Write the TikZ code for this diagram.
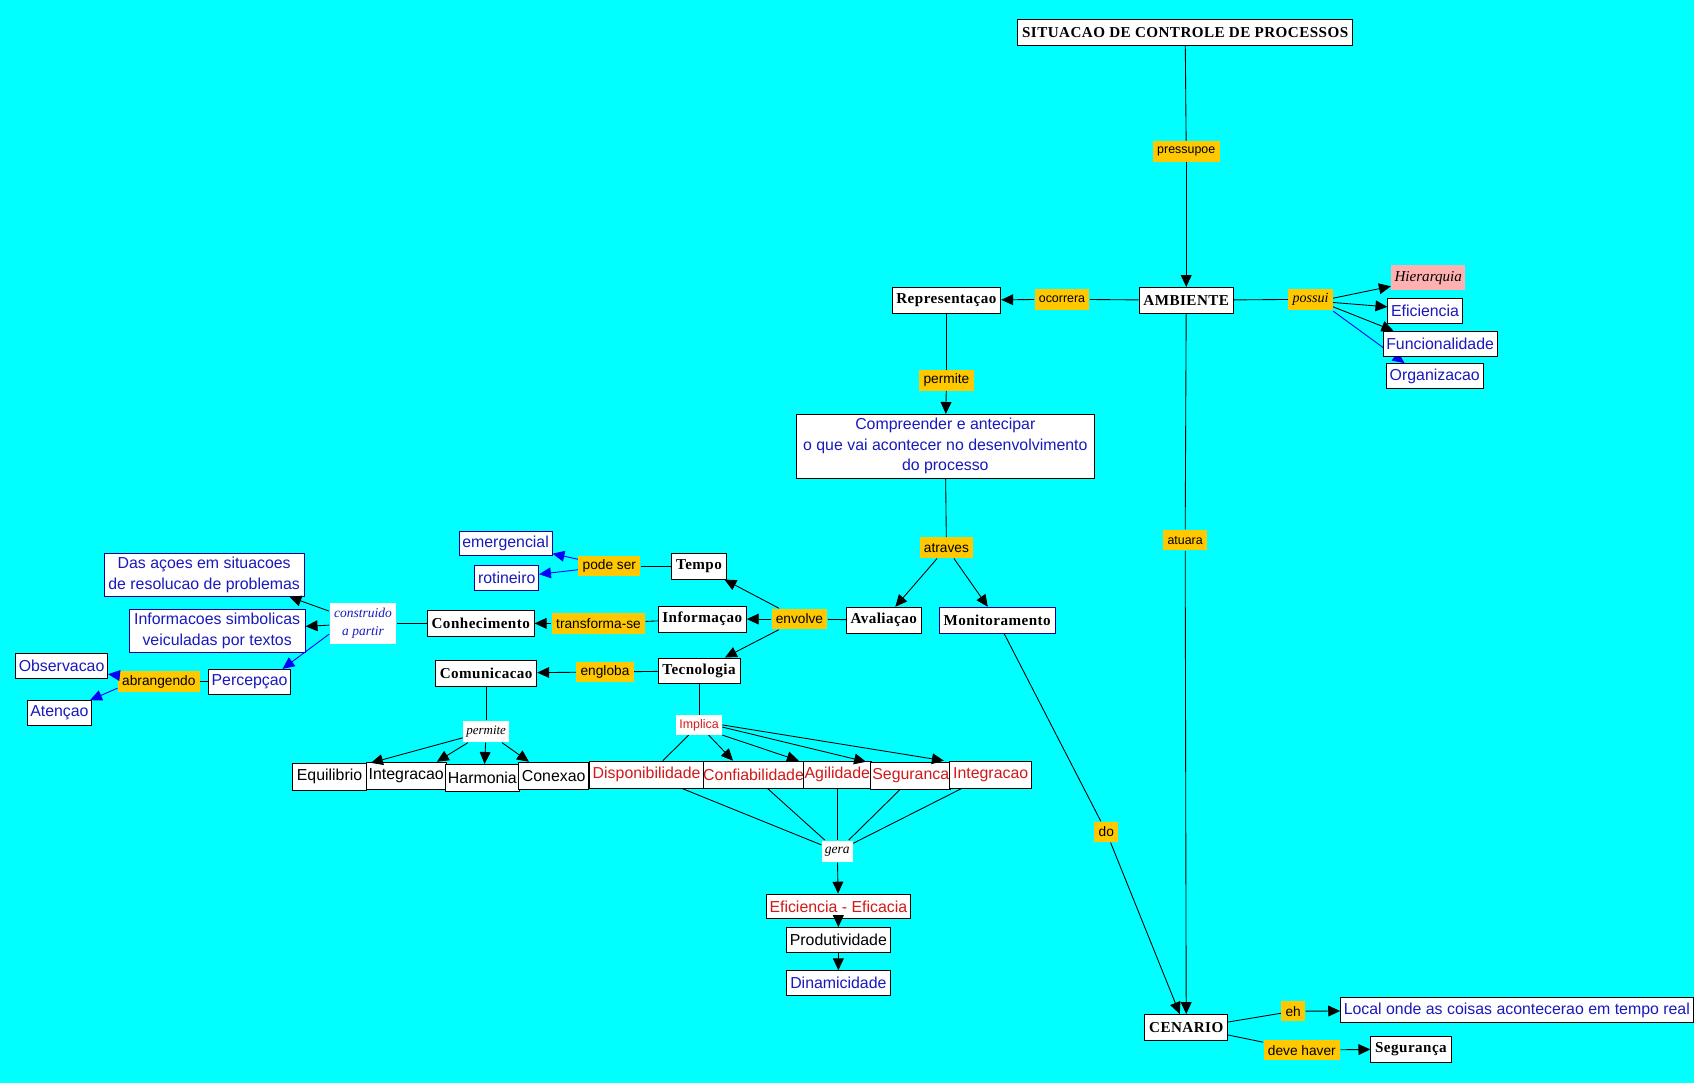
\documentclass[tikz,border=0pt]{standalone}
\usepackage{fontspec}
\setmainfont{Liberation Serif}
\setsansfont{Liberation Sans}
\definecolor{bgcyan}{RGB}{0,255,255}
\definecolor{linkorange}{RGB}{255,200,0}
\definecolor{mapblue}{RGB}{25,25,190}
\definecolor{mapred}{RGB}{210,25,25}
\definecolor{rosebox}{RGB}{255,176,176}
\definecolor{frameblue}{RGB}{0,0,150}
\usetikzlibrary{arrows.meta, positioning}

\newcommand{\mapconceptfont}{\fontsize{14}{16}\selectfont\bfseries\addfontfeature{LetterSpace=3}}
\newcommand{\mapboxfont}{\sffamily\fontsize{14.7}{19}\selectfont}
\newcommand{\maprowfont}{\sffamily\fontsize{14.7}{17}\selectfont}
\newcommand{\maplinkfont}{\sffamily\fontsize{12.7}{14}\selectfont}
\newcommand{\mapsmalllink}{\sffamily\fontsize{11.5}{13}\selectfont}
\newcommand{\mapnotefont}{\itshape\fontsize{12.5}{17}\selectfont}

\tikzset{
  concept/.style={draw=black, fill=white, inner xsep=4pt, inner ysep=0pt,
                  minimum height=24pt, font=\mapconceptfont},
  item/.style={draw=black, fill=white, inner xsep=3pt, inner ysep=0pt,
               minimum height=23pt, font=\mapboxfont, text=mapblue},
  rowbox/.style={draw=black, fill=white, inner xsep=1pt, inner ysep=0pt,
                 minimum height=25pt, font=\maprowfont, text=black},
  link/.style={fill=linkorange, inner xsep=4pt, inner ysep=0pt,
               minimum height=19pt, font=\maplinkfont},
  wlink/.style={fill=white, inner xsep=3pt, inner ysep=0pt,
                minimum height=20pt, font=\mapnotefont},
  arr/.style={-{Triangle[length=11pt,width=10pt]}},
  barr/.style={arr, draw=blue, fill=blue},
}

\begin{document}
\begin{tikzpicture}[x=1pt, y=-1pt, line width=0.8pt]
\useasboundingbox (0,0) rectangle (1568,1002);
\fill[bgcyan] (0,0) rectangle (1568,1002);

% top of the map
\node[concept] (sit) at (1097,30) {SITUACAO DE CONTROLE DE PROCESSOS};
\node[link, font=\mapsmalllink] (pres) at (1098,140) {pressupoe};
\node[concept] (amb) at (1098,278) {AMBIENTE};
\node[link, font=\mapsmalllink] (ocor) at (983,277) {ocorrera};
\node[concept] (repr) at (876,278) {Representaçao};
\draw (sit) -- (pres);
\draw[arr] (pres) -- (amb);
\draw (amb) -- (ocor);
\draw[arr] (ocor) -- (repr);

% what the environment has
\node[link, font=\itshape\fontsize{13}{15}\selectfont] (poss) at (1213,277) {possui};
\node[fill=rosebox, inner xsep=3pt, inner ysep=0pt, minimum height=23pt,
      font=\itshape\fontsize{14}{16}\selectfont] (hier) at (1322,257) {Hierarquia};
\node[item] (efic) at (1319,288) {Eficiencia};
\node[item] (org) at (1328,348) {Organizacao};
\draw (amb) -- (poss);
\draw[barr] ([yshift=-11pt]poss.east) -- ([xshift=-28pt]org.north);
\node[item] (func) at (1333,318) {Funcionalidade};
\draw[arr] ([yshift=1pt]poss.east) -- ([yshift=-8pt]hier.west);
\draw[arr] ([yshift=-3pt]poss.east) -- ([yshift=4pt]efic.west);
\draw[arr] ([yshift=-7pt]poss.east) -- ([xshift=10pt]func.north west);

% representation branch
\node[link] (perm) at (876,352) {permite};
\node[item, align=center, minimum width=276pt, minimum height=59pt] (comp) at (875,413)
  {Compreender e antecipar\\o que vai acontecer no desenvolvimento\\do processo};
\node[link] (atra) at (876,507) {atraves};
\node[concept] (aval) at (818,574) {Avaliaçao};
\node[concept, draw=frameblue] (monit) at (923,574) {Monitoramento};
\draw (repr) -- (perm);
\draw[arr] (perm) -- (comp);
\draw (comp) -- (atra);
\draw[arr] (atra) -- (aval);
\draw[arr] (atra) -- (monit);

% evaluation involves
\node[link] (envo) at (740,573) {envolve};
\node[concept] (tempo) at (647,524) {Tempo};
\node[concept] (info) at (650,573) {Informaçao};
\node[concept] (tecn) at (647,621) {Tecnologia};
\draw (aval) -- (envo);
\draw[arr] (envo) -- (tempo);
\draw[arr] (envo) -- (info);
\draw[arr] (envo) -- (tecn);

\node[link] (pode) at (564,524) {pode ser};
\node[item, draw=frameblue] (emerg) at (468,503) {emergencial};
\node[item, draw=frameblue] (rotin) at (469,535) {rotineiro};
\draw (tempo) -- (pode);
\draw[barr] (pode) -- (emerg);
\draw[barr] (pode) -- (rotin);

\node[link] (trans) at (554,577) {transforma-se};
\node[concept] (conh) at (445,577) {Conhecimento};
\draw (info) -- (trans);
\draw[arr] (trans) -- (conh);

% knowledge built from
\node[wlink, text=mapblue, align=center, minimum width=62pt, minimum height=38pt]
  (constr) at (336,577) {construido\\a partir};
\node[item, draw=frameblue, align=center, minimum width=185pt, minimum height=40pt]
  (acoes) at (189,532) {Das açoes em situacoes\\de resolucao de problemas};
\node[item, draw=frameblue, align=center, minimum width=163pt, minimum height=40pt]
  (simb) at (201,584) {Informacoes simbolicas\\veiculadas por textos};
\node[item] (perc) at (231,631) {Percepçao};
\node[link] (abra) at (147,631) {abrangendo};
\node[item] (obs) at (57,616) {Observacao};
\node[item] (aten) at (55,660) {Atençao};
\draw (conh) -- (constr);
\draw[arr] (constr) -- ([xshift=-14pt]acoes.south east);
\draw[arr] (constr) -- (simb);
\draw[barr] ([yshift=-10pt]constr.west) -- ([xshift=-8pt]perc.north east);
\draw (perc) -- (abra);
\draw[barr] ([yshift=6pt]abra.west) -- ([yshift=-8pt]obs.east);
\draw[barr] ([yshift=-6pt]abra.west) -- ([xshift=-2pt]aten.north east);

% technology branch
\node[link] (engl) at (560,622) {engloba};
\node[concept] (comu) at (450,623) {Comunicacao};
\node[wlink, font=\itshape\fontsize{12}{14}\selectfont] (perm2) at (450,677) {permite};
\node[wlink, font=\mapsmalllink, text=mapred, minimum height=18pt] (impl) at (647,671) {Implica};
\draw (tecn) -- (engl);
\draw[arr] (engl) -- (comu);
\draw (comu) -- (perm2);
\draw (tecn) -- (impl);

% bottom row
\node[rowbox, minimum width=68pt] (equil) at (305,719) {Equilibrio};
\node[rowbox, minimum width=74pt] (intega) at (376,718) {Integracao};
\node[rowbox, minimum width=69pt] (harm) at (446.5,720) {Harmonia};
\node[rowbox, minimum width=65pt] (conex) at (512.5,718) {Conexao};
\node[rowbox, minimum width=95pt, text=mapred] (conf) at (697.5,717) {Confiabilidade};
\node[rowbox, minimum width=105pt, text=mapred] (disp) at (598.5,717) {Disponibilidade};
\node[rowbox, minimum width=62pt, text=mapred] (agil) at (775,717) {Agilidade};
\node[rowbox, minimum width=74pt, text=mapred] (segr) at (843,718) {Seguranca};
\node[rowbox, minimum width=76pt, text=mapred] (integb) at (917,717) {Integracao};
\draw[arr] (perm2) -- ([xshift=4pt]equil.north east);
\draw[arr] (perm2) -- ([xshift=-9pt]intega.north east);
\draw[arr] (perm2) -- ([xshift=2pt]harm.north);
\draw[arr] (perm2) -- ([xshift=10pt]conex.north west);
\draw (impl) -- ([xshift=15pt]disp.north);
\draw[arr] (impl) -- ([xshift=29pt]conf.north west);
\draw[arr] (impl.south east) -- ([xshift=-4pt]agil.north west);
\draw[arr] ([yshift=-2pt]impl.east) -- ([xshift=-4pt]segr.north west);
\draw[arr] (impl.east) -- ([xshift=-5pt]integb.north west);

% what it generates
\node[wlink] (gera) at (775,788) {gera};
\node[item, text=mapred] (efef) at (776,839) {Eficiencia - Eficacia};
\node[item, text=black, minimum width=97pt] (prod) at (776,870) {Produtividade};
\node[item, minimum width=97pt] (dina) at (776,910) {Dinamicidade};
\draw ([xshift=33pt]disp.south) -- (gera);
\draw ([xshift=13pt]conf.south) -- (gera);
\draw (agil) -- (gera);
\draw ([xshift=-10pt]segr.south) -- (gera);
\draw ([xshift=-27pt]integb.south) -- (gera);
\draw[arr] (gera) -- (efef);
\draw[arr] (efef) -- (prod);
\draw[arr] (prod) -- (dina);

% scenario
\node[link, font=\mapsmalllink] (atua) at (1097,500) {atuara};
\node[link] (dolbl) at (1024,770) {do};
\node[concept] (cena) at (1098,951) {CENARIO};
\node[link] (eh) at (1197,936) {eh};
\node[item] (local) at (1404,935) {Local onde as coisas acontecerao em tempo real};
\node[link] (deve) at (1205,972) {deve haver};
\node[concept] (segu) at (1306,971) {Segurança};
\draw (amb) -- (atua);
\draw[arr] (atua) -- (cena);
\draw (monit) -- (dolbl);
\draw[arr] (dolbl) -- ([xshift=-6pt]cena.north);
\draw ([yshift=5pt]cena.east) -- (eh);
\draw[arr] (eh) -- (local);
\draw ([yshift=-7pt]cena.east) -- (deve);
\draw[arr] (deve) -- (segu);
\end{tikzpicture}
\end{document}
